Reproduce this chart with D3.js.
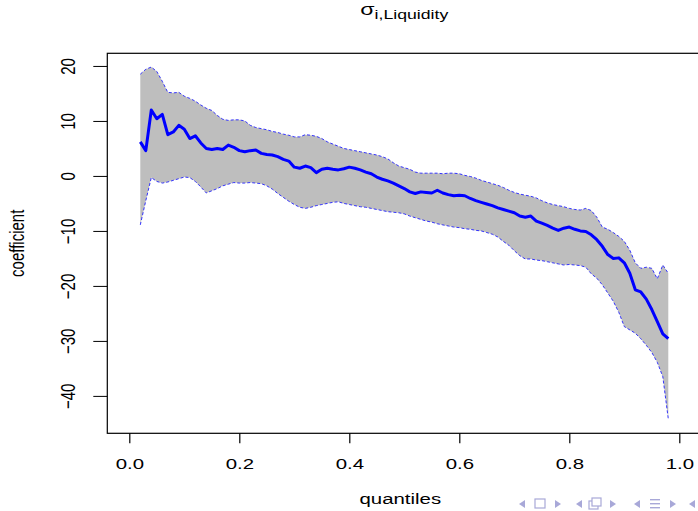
<!DOCTYPE html>
<html>
<head>
<meta charset="utf-8">
<script src="https://cdn.jsdelivr.net/npm/d3@7"></script>
<style>
  body { margin: 0; background: #fff; }
  svg { display: block; }
  text { font-family: "Liberation Sans", Arial, Helvetica, sans-serif; fill: #000; }
</style>
</head>
<body>
<script>
// Quantile grid of the regression
const quantiles = [
  0.02,0.03,0.04,0.05,0.06,0.07,0.08,0.09,0.10,0.11,0.12,0.13,0.14,0.15,0.16,0.17,0.18,0.19,
  0.20,0.21,0.22,0.23,0.24,0.25,0.26,0.27,0.28,0.29,0.30,0.31,0.32,0.33,0.34,0.35,0.36,0.37,
  0.38,0.39,0.40,0.41,0.42,0.43,0.44,0.45,0.46,0.47,0.48,0.49,0.50,0.51,0.52,0.53,0.54,0.55,
  0.56,0.57,0.58,0.59,0.60,0.61,0.62,0.63,0.64,0.65,0.66,0.67,0.68,0.69,0.70,0.71,0.72,0.73,
  0.74,0.75,0.76,0.77,0.78,0.79,0.80,0.81,0.82,0.83,0.84,0.85,0.86,0.87,0.88,0.89,0.90,0.91,
  0.92,0.93,0.94,0.95,0.96,0.97,0.98
];

// Estimated coefficient at each quantile
const estimate = [
  6.2,4.6,12.0,10.4,11.2,7.5,8.0,9.2,8.5,6.8,7.3,6.0,5.0,4.8,5.0,4.8,5.6,5.2,
  4.6,4.4,4.6,4.7,4.1,3.9,3.8,3.5,3.0,2.7,1.6,1.4,1.8,1.5,0.6,1.2,1.4,1.2,
  1.1,1.3,1.6,1.4,1.1,0.7,0.4,-0.2,-0.6,-0.9,-1.3,-1.8,-2.3,-2.9,-3.2,-2.9,-3.0,-3.1,
  -2.6,-3.1,-3.4,-3.6,-3.5,-3.6,-4.1,-4.5,-4.8,-5.1,-5.4,-5.8,-6.1,-6.4,-6.7,-7.3,-7.5,-7.3,
  -8.2,-8.6,-9.0,-9.5,-9.9,-9.5,-9.3,-9.7,-10.0,-10.1,-10.7,-11.6,-12.8,-14.3,-15.0,-14.9,-15.8,-17.7,
  -20.7,-21.1,-22.4,-24.3,-26.5,-28.7,-29.6
];

// Upper confidence bound
const upper = [
  18.5,19.4,19.8,19.0,17.2,15.2,15.1,15.2,14.5,14.1,13.6,12.9,12.3,11.9,11.0,10.3,10.1,10.2,
  10.2,10.0,9.2,8.8,8.6,8.4,8.1,7.9,7.6,7.4,7.1,7.1,7.5,7.4,7.2,6.8,6.2,5.8,
  5.4,5.0,4.8,4.6,4.4,4.2,4.0,3.8,3.5,3.1,2.4,1.8,1.5,1.2,0.7,0.5,0.5,0.5,
  0.5,0.4,0.5,0.5,0.4,0.1,-0.1,-0.4,-0.8,-1.1,-1.4,-1.7,-2.1,-2.6,-3.0,-3.3,-3.5,-3.7,
  -4.0,-4.5,-4.9,-5.2,-5.4,-5.6,-5.9,-6.1,-6.2,-5.9,-6.3,-7.5,-9.3,-9.7,-10.3,-11.0,-11.9,-13.5,
  -15.8,-16.8,-16.6,-16.8,-18.7,-16.2,-17.7
];

// Lower confidence bound
const lower = [
  -8.9,-4.5,-0.3,-1.0,-1.3,-1.1,-0.8,-0.5,-0.2,-0.3,-1.0,-2.0,-3.1,-2.7,-2.3,-1.8,-1.5,-1.2,
  -1.3,-1.3,-1.2,-1.3,-1.4,-1.8,-2.4,-3.2,-3.9,-4.6,-5.2,-5.7,-5.9,-5.7,-5.4,-5.2,-5.0,-4.8,
  -4.7,-5.0,-5.2,-5.4,-5.6,-5.7,-5.9,-6.1,-6.3,-6.5,-6.6,-6.7,-6.9,-7.3,-7.6,-7.9,-8.2,-8.4,
  -8.7,-8.9,-9.1,-9.3,-9.4,-9.6,-9.7,-9.9,-10.0,-10.3,-10.6,-11.1,-11.9,-12.6,-13.6,-14.5,-15.1,-15.1,
  -15.3,-15.4,-15.6,-15.8,-16.0,-16.2,-16.1,-16.2,-16.3,-16.6,-17.8,-18.6,-19.8,-21.3,-22.8,-24.8,-27.4,-28.0,
  -28.6,-29.6,-30.8,-32.1,-33.9,-36.5,-44.2
];

const xTicks = [0.0, 0.2, 0.4, 0.6, 0.8, 1.0];
const yTicks = [20, 10, 0, -10, -20, -30, -40];

const W = 698, H = 511;
const plot = { left: 107.3, right: 701.3, top: 53.3, bottom: 433.3 };
const stretch = 1.36;   // horizontal widening of all lettering

const rows = quantiles.map((q, i) => ({ q, est: estimate[i], hi: upper[i], lo: lower[i] }));

const x = d3.scaleLinear().domain([-0.04, 1.04]).range([plot.left, plot.right]);
const y = d3.scaleLinear().domain([-46.8, 22.3]).range([plot.bottom, plot.top]);

const svg = d3.select("body").append("svg").attr("width", W).attr("height", H);

svg.append("defs").append("clipPath").attr("id", "plotclip")
  .append("rect")
  .attr("x", plot.left).attr("y", plot.top)
  .attr("width", plot.right - plot.left).attr("height", plot.bottom - plot.top);

const panel = svg.append("g").attr("clip-path", "url(#plotclip)");

// Confidence band
panel.append("path")
  .datum(rows)
  .attr("d", d3.area().x(d => x(d.q)).y0(d => y(d.lo)).y1(d => y(d.hi)))
  .attr("fill", "#bebebe")
  .attr("stroke", "none");

// Dashed band edges
for (const key of ["hi", "lo"]) {
  panel.append("path")
    .datum(rows)
    .attr("d", d3.line().x(d => x(d.q)).y(d => y(d[key])))
    .attr("fill", "none")
    .attr("stroke", "#2020ff")
    .attr("stroke-width", 0.9)
    .attr("stroke-dasharray", "3,2");
}

// Coefficient estimate
panel.append("path")
  .datum(rows)
  .attr("d", d3.line().x(d => x(d.q)).y(d => y(d.est)))
  .attr("fill", "none")
  .attr("stroke", "#0000ff")
  .attr("stroke-width", 3)
  .attr("stroke-linejoin", "round");

// Frame
svg.append("rect")
  .attr("x", plot.left).attr("y", plot.top)
  .attr("width", plot.right - plot.left).attr("height", plot.bottom - plot.top)
  .attr("fill", "none").attr("stroke", "#000").attr("stroke-width", 1.2);

// Bottom axis
const gx = svg.append("g")
  .attr("transform", `translate(0,${plot.bottom})`)
  .call(d3.axisBottom(x).tickValues(xTicks).tickSize(10).tickFormat(d3.format(".1f")));
gx.select(".domain").remove();
gx.selectAll(".tick line").attr("stroke", "#000").attr("stroke-width", 1.2);
gx.selectAll(".tick text")
  .attr("y", 0).attr("dy", 0)
  .attr("transform", `translate(0,36) scale(${stretch},1)`)
  .attr("font-size", 15)
  .attr("font-family", null)
  .attr("fill", "#000");

// Left axis
const gy = svg.append("g")
  .attr("transform", `translate(${plot.left},0)`)
  .call(d3.axisLeft(y).tickValues(yTicks).tickSize(14).tickFormat(d => d < 0 ? "\u2212" + Math.abs(d) : d));
gy.select(".domain").remove();
gy.selectAll(".tick line").attr("stroke", "#000").attr("stroke-width", 1);
gy.selectAll(".tick text")
  .attr("x", 0).attr("y", 0).attr("dy", 0)
  .attr("text-anchor", "middle")
  .attr("transform", `translate(-32.5,0) scale(${stretch},1) rotate(-90)`)
  .attr("font-size", 15)
  .attr("fill", "#000");
svg.selectAll(".tick text").attr("font-family", null);
gx.attr("font-family", null); gy.attr("font-family", null);

// Axis titles
const cx = (plot.left + plot.right) / 2;
const cy = (plot.top + plot.bottom) / 2;
svg.append("text")
  .attr("transform", `translate(${cx - 4},504) scale(${stretch},1)`)
  .attr("text-anchor", "middle").attr("font-size", 15)
  .text("quantiles");
svg.append("text")
  .attr("transform", `translate(23.5,${cy}) scale(${stretch},1) rotate(-90)`)
  .attr("text-anchor", "middle").attr("font-size", 15)
  .text("coefficient");

// Main title: sigma with subscript
const title = svg.append("text")
  .attr("transform", `translate(${cx},15) scale(${stretch},1)`)
  .attr("text-anchor", "middle");
title.append("tspan").attr("font-size", 17).text("\u03C3");
title.append("tspan").attr("font-size", 13).attr("dy", 4).text("i,Liquidity");

// Slide navigation symbols along the lower edge
const navColor = "#a8a8d8";
const nav = svg.append("g").attr("fill", navColor).attr("stroke", navColor);
const navY = 504;
const tri = (cxp, dir) => nav.append("path")
  .attr("d", `M${cxp + dir * 3},${navY - 4} L${cxp - dir * 3},${navY} L${cxp + dir * 3},${navY + 4} Z`)
  .attr("stroke", "none");
tri(522, 1);
nav.append("rect").attr("x", 535).attr("y", navY - 5).attr("width", 10).attr("height", 9)
  .attr("fill", "none").attr("stroke-width", 1.2);
tri(558, -1);
tri(579, 1);
nav.append("rect").attr("x", 589).attr("y", navY - 3).attr("width", 9).attr("height", 8)
  .attr("fill", "none").attr("stroke-width", 1.2);
nav.append("rect").attr("x", 592).attr("y", navY - 6).attr("width", 9).attr("height", 8)
  .attr("fill", "#fff").attr("stroke-width", 1.2);
tri(613, -1);
tri(637, 1);
for (let k = 0; k < 3; k++) {
  nav.append("rect").attr("x", 650).attr("y", navY - 5 + k * 4).attr("width", 10).attr("height", 1.4)
    .attr("stroke", "none");
}
tri(673, -1);
tri(692, 1);
</script>
</body>
</html>
